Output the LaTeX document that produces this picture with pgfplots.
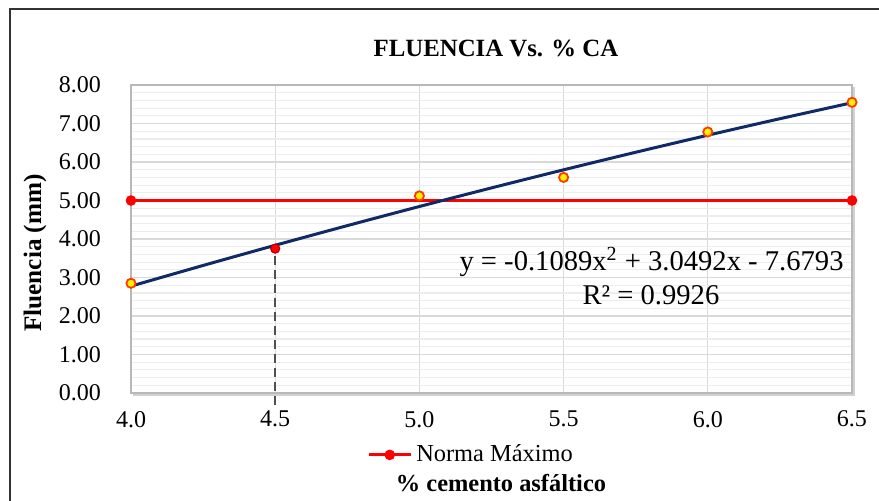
\documentclass[border=0pt]{standalone}
\usepackage{pgfplots}
\pgfplotsset{compat=1.18}
\usepackage{fontspec}
\setmainfont{Liberation Serif}
\definecolor{navyline}{HTML}{0F2A66}
\definecolor{gridmaj}{HTML}{D9D9D9}
\definecolor{gridmin}{HTML}{EDEDED}
\definecolor{mkedge}{HTML}{FF3A00}
\definecolor{mkfill}{HTML}{FFF200}
\definecolor{dashgray}{HTML}{505050}
\begin{document}
\begin{tikzpicture}
\useasboundingbox (0,0) rectangle (439.5pt,-250.5pt);
\draw[line width=1pt, color=black!80] (5pt,-260pt) -- (5pt,-4.5pt) -- (450pt,-4.5pt);
% drop shadow of plot area
\fill[black!18] (66.5pt,-197.8pt) rectangle (427.3pt,-43.5pt);
\begin{axis}[
  at={(65.5pt,-196.5pt)}, anchor=south west,
  scale only axis, width=360.5pt, height=154pt,
  xmin=4, xmax=6.5, ymin=0, ymax=8,
  xtick={4,4.5,5,5.5,6,6.5}, ytick={0,1,2,3,4,5,6,7,8},
  minor y tick num=4,
  grid=both,
  major grid style={draw=gridmaj, line width=0.6pt},
  minor grid style={draw=gridmin, line width=0.6pt},
  major tick length=0pt, minor tick length=0pt,
  axis line style={draw=black!28, line width=0.8pt},
  axis background/.style={fill=white},
  clip=false,
  /pgf/number format/assume math mode=true,
  xticklabel style={/pgf/number format/.cd, fixed, fixed zerofill, precision=1, /tikz/.cd, font=\fontsize{12}{13}\selectfont, yshift=-5.5pt},
  yticklabel style={/pgf/number format/.cd, fixed, fixed zerofill, precision=2, /tikz/.cd, font=\fontsize{12}{13}\selectfont, xshift=-11.5pt},
  legend style={at={(0.473,-0.201)}, anchor=center, draw=none, fill=none, inner sep=0pt, font=\fontsize{12.2}{14}\selectfont},
  legend image code/.code={\draw[#1, mark repeat=2, mark phase=2] plot coordinates {(0pt,0pt) (10.5pt,0pt) (21pt,0pt)};},
]
\addplot[draw=red, line width=1.5pt, mark=*, mark size=2.4pt, mark options={fill=red, draw=red, line width=0.5pt}] coordinates {(4,5) (6.5,5)};
\addlegendentry{Norma Máximo}
\addplot[forget plot, draw=dashgray, line width=1.1pt, dash pattern=on 4.5pt off 2.5pt] coordinates {(4.5,-0.3) (4.5,3.78)};
\addplot[forget plot, draw=navyline, line width=1.5pt, smooth] coordinates {
  (4.00,2.7751) (4.25,3.3128) (4.50,3.8369) (4.75,4.3473) (5.00,4.8442)
  (5.25,5.3274) (5.50,5.7971) (5.75,6.2531) (6.00,6.6955) (6.25,7.1243) (6.50,7.5395)};
\addplot[forget plot, only marks, mark=*, mark size=2.3pt, mark options={fill=mkfill, draw=mkedge, line width=0.9pt}] coordinates {
  (4.0,2.85) (5.0,5.12) (5.5,5.60) (6.0,6.78) (6.5,7.55)};
\addplot[forget plot, only marks, mark=*, mark size=2.3pt, mark options={fill=red, draw=red!70!black, line width=0.5pt}] coordinates {(4.5,3.75)};
\node[font=\fontsize{14.3}{16}\selectfont] at (axis cs:5.805,3.40) {y = -0.1089x\textsuperscript{2} + 3.0492x - 7.6793};
\node[font=\fontsize{14.3}{16}\selectfont] at (axis cs:5.803,2.545) {R² = 0.9926};
\end{axis}
\node[font=\bfseries\fontsize{12.4}{14}\selectfont] at (248pt,-24pt) {FLUENCIA Vs. \% CA};
\node[font=\bfseries\fontsize{12.6}{14}\selectfont, rotate=90] at (17.5pt,-126.5pt) {Fluencia (mm)};
\node[font=\bfseries\fontsize{12.2}{14}\selectfont] at (250.5pt,-241.5pt) {\% cemento asfáltico};
\end{tikzpicture}
\end{document}
